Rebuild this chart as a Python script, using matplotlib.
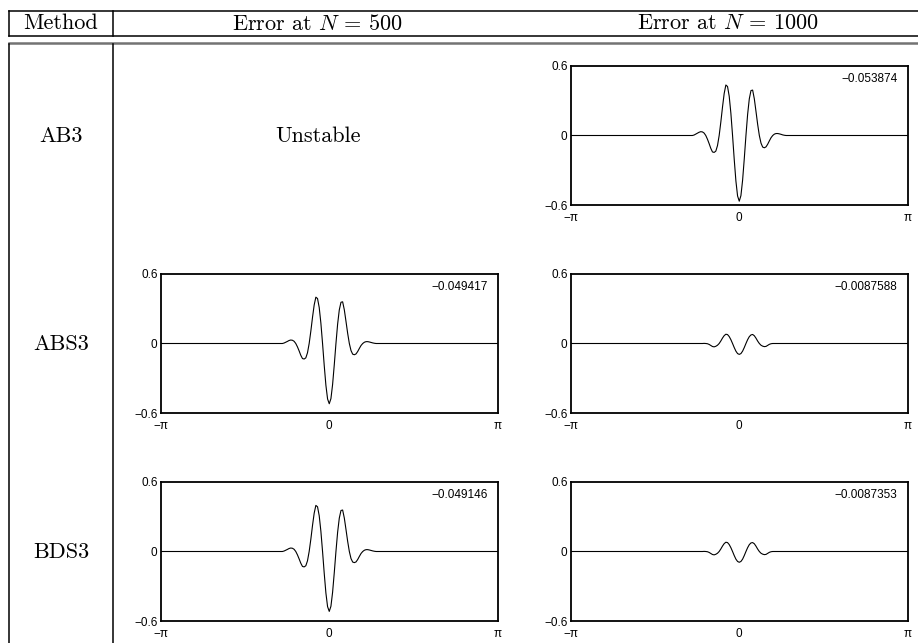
import numpy as np
import matplotlib
matplotlib.use("Agg")
import matplotlib.pyplot as plt

plt.rcParams['mathtext.fontset'] = 'cm'

# row / column labels
methods = ["AB3", "ABS3", "BDS3"]
col_titles = [r"Error at $N\,=\,500$", r"Error at $N\,=\,1000$"]

# sample positions of the error curves (outside [-1, 1] the error is flat zero)
x_pts = [-1.0, -0.96875, -0.9375, -0.90625, -0.875, -0.84375, -0.8125, -0.78125,
         -0.75, -0.71875, -0.6875, -0.65625, -0.625, -0.59375, -0.5625, -0.53125,
         -0.5, -0.46875, -0.4375, -0.40625, -0.375, -0.34375, -0.3125, -0.28125,
         -0.25, -0.21875, -0.1875, -0.15625, -0.125, -0.09375, -0.0625, -0.03125,
         0.0,
         0.03125, 0.0625, 0.09375, 0.125, 0.15625, 0.1875, 0.21875, 0.25,
         0.28125, 0.3125, 0.34375, 0.375, 0.40625, 0.4375, 0.46875, 0.5,
         0.53125, 0.5625, 0.59375, 0.625, 0.65625, 0.6875, 0.71875, 0.75,
         0.78125, 0.8125, 0.84375, 0.875, 0.90625, 0.9375, 0.96875, 1.0]

err_ab3_1000 = [0, 0, 0, 0, 0, 0.004, 0.012, 0.020, 0.028, 0.033, 0.031, 0.021,
                0, -0.032, -0.070, -0.111, -0.142, -0.146, -0.135, -0.087,
                0, 0.117, 0.246, 0.363, 0.436, 0.423, 0.339, 0.192,
                0, -0.207, -0.393, -0.522, -0.567,
                -0.519, -0.386, -0.201, 0, 0.182, 0.316, 0.388, 0.392,
                0.317, 0.208, 0.096, 0, -0.066, -0.100, -0.106, -0.098,
                -0.075, -0.046, -0.019, 0, 0.012, 0.017, 0.017, 0.014,
                0.010, 0.005, 0.002, 0, 0, 0, 0, 0]
err_abs3_500 = [0, 0, 0, 0, 0, 0.004, 0.011, 0.018, 0.026, 0.030, 0.028, 0.019,
                0, -0.029, -0.064, -0.102, -0.130, -0.134, -0.124, -0.080,
                0, 0.107, 0.226, 0.333, 0.400, 0.388, 0.311, 0.176,
                0, -0.190, -0.361, -0.479, -0.520,
                -0.476, -0.354, -0.184, 0, 0.167, 0.290, 0.356, 0.360,
                0.291, 0.191, 0.088, 0, -0.061, -0.092, -0.097, -0.090,
                -0.069, -0.042, -0.017, 0, 0.011, 0.016, 0.016, 0.013,
                0.009, 0.005, 0.002, 0, 0, 0, 0, 0]
err_abs3_1000 = [0, 0, 0, 0, 0, 0, 0, 0, 0, 0, 0, 0.001,
                 0, -0.002, -0.008, -0.017, -0.026, -0.029, -0.024, -0.015,
                 0, 0.022, 0.047, 0.068, 0.080, 0.077, 0.060, 0.033,
                 0, -0.035, -0.066, -0.087, -0.094,
                 -0.087, -0.066, -0.035, 0, 0.033, 0.059, 0.074, 0.078,
                 0.067, 0.046, 0.021, 0, -0.015, -0.023, -0.027, -0.025,
                 -0.016, -0.007, -0.002, 0, 0, 0, 0, 0,
                 0, 0, 0, 0, 0, 0, 0, 0]
err_bds3_500 = [0, 0, 0, 0, 0, 0.004, 0.011, 0.018, 0.026, 0.030, 0.028, 0.019,
                0, -0.029, -0.064, -0.101, -0.129, -0.133, -0.123, -0.080,
                0, 0.106, 0.225, 0.331, 0.398, 0.386, 0.309, 0.175,
                0, -0.189, -0.359, -0.476, -0.517,
                -0.473, -0.352, -0.183, 0, 0.166, 0.288, 0.354, 0.358,
                0.289, 0.190, 0.088, 0, -0.061, -0.091, -0.096, -0.090,
                -0.069, -0.042, -0.017, 0, 0.011, 0.016, 0.016, 0.013,
                0.009, 0.005, 0.002, 0, 0, 0, 0, 0]
err_bds3_1000 = [0, 0, 0, 0, 0, 0, 0, 0, 0, 0, 0, 0.001,
                 0, -0.002, -0.008, -0.017, -0.026, -0.029, -0.024, -0.015,
                 0, 0.022, 0.047, 0.068, 0.080, 0.077, 0.060, 0.033,
                 0, -0.035, -0.066, -0.086, -0.093,
                 -0.086, -0.066, -0.035, 0, 0.033, 0.059, 0.074, 0.077,
                 0.067, 0.046, 0.021, 0, -0.015, -0.023, -0.027, -0.025,
                 -0.016, -0.007, -0.002, 0, 0, 0, 0, 0,
                 0, 0, 0, 0, 0, 0, 0, 0]

# numbers printed in the upper right corner of each panel
labels_ab3 = [None, "\u22120.053874"]
labels_abs3 = ["\u22120.049417", "\u22120.0087588"]
labels_bds3 = ["\u22120.049146", "\u22120.0087353"]

curves = [[None, err_ab3_1000],
          [err_abs3_500, err_abs3_1000],
          [err_bds3_500, err_bds3_1000]]
corner = [labels_ab3, labels_abs3, labels_bds3]

yticks = [-0.6, 0, 0.6]
ytick_labels = ["\u22120.6", "0", "0.6"]
xtick_labels = ["\u2212\u03c0", "0", "\u03c0"]

W, H = 918, 643
fig = plt.figure(figsize=(W / 100, H / 100), dpi=100)

# table frame drawn in pixel coordinates
tab = fig.add_axes([0, 0, 1, 1], zorder=-1)
tab.set_xlim(0, W)
tab.set_ylim(H, 0)
tab.axis('off')

lw_rule = 1.1
tab.plot([9, W], [10.7, 10.7], color='k', lw=lw_rule)
tab.plot([9, W], [36, 36], color='k', lw=lw_rule)
tab.plot([9, W], [42.8, 42.8], color='0.45', lw=1.8)
for xv in [9, 113]:
    tab.plot([xv, xv], [10.7, 36], color='k', lw=lw_rule)
    tab.plot([xv, xv], [43.5, H], color='k', lw=lw_rule)

serif = dict(family='cmr10', size=16)
tab.text(61, 23.5, "Method", ha='center', va='center', **serif)
for xc, t in zip([317.7, 727.5], col_titles):
    tab.text(xc, 23.5, t, ha='center', va='center', **serif)

row_top = [66, 274, 482]
row_h = 139
col_left = [161, 571]
col_w = 336.5

for i, m in enumerate(methods):
    yc = row_top[i] + row_h / 2 + 1
    tab.text(61, yc, m, ha='center', va='center', **serif)
    for j in range(2):
        data = curves[i][j]
        if data is None:
            tab.text(318, yc, "Unstable", ha='center', va='center', **serif)
            continue
        ax = fig.add_axes([col_left[j] / W, 1 - (row_top[i] + row_h) / H,
                           col_w / W, row_h / H])
        xx = np.r_[-np.pi, x_pts, np.pi]
        yy = np.r_[0.0, data, 0.0]
        ax.plot(xx, yy, color='k', lw=0.8)
        ax.set_xlim(-np.pi, np.pi)
        ax.set_ylim(-0.6, 0.6)
        ax.set_xticks([-np.pi, 0, np.pi])
        ax.set_xticklabels(xtick_labels, family='Liberation Sans', size=8.5)
        ax.set_yticks(yticks)
        ax.set_yticklabels(ytick_labels, family='Liberation Sans', size=8.5)
        ax.tick_params(axis='x', length=0, pad=5)
        ax.tick_params(axis='y', length=0, pad=2.5)
        for s in ax.spines.values():
            s.set_linewidth(1.3)
        ax.text(0.97, 0.952, corner[i][j], transform=ax.transAxes,
                ha='right', va='top', family='Liberation Sans', size=8.5)

fig.savefig("out.png", dpi=100)
